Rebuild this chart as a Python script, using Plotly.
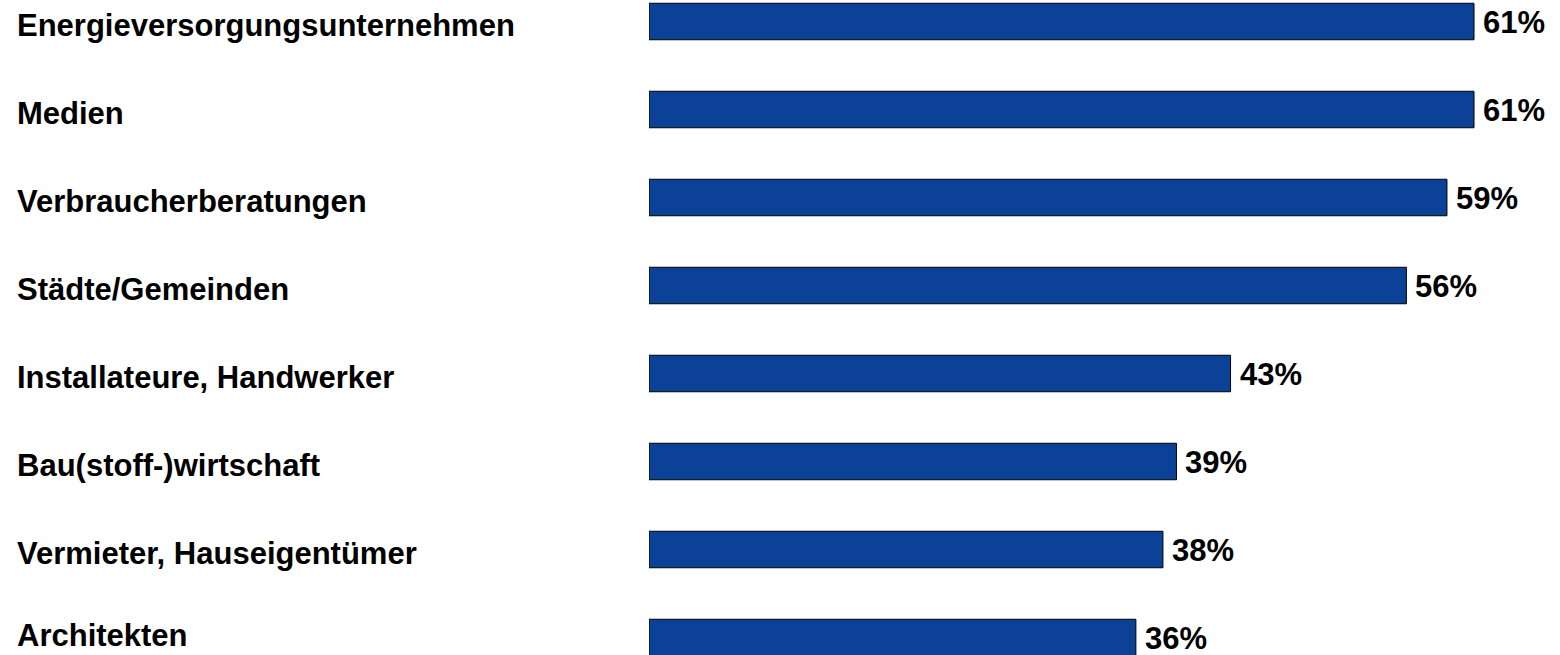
import plotly.graph_objects as go

# Survey results: share of respondents per information source (%)
categories = [
    "Energieversorgungsunternehmen",
    "Medien",
    "Verbraucherberatungen",
    "Städte/Gemeinden",
    "Installateure, Handwerker",
    "Bau(stoff-)wirtschaft",
    "Vermieter, Hauseigentümer",
    "Architekten",
]
values = [61, 61, 59, 56, 43, 39, 38, 36]

W, H = 1560, 655
ML, MR = 649, 0
plot_w = W - ML - MR
px_per_unit = 825 / 61
x_max = plot_w / px_per_unit

row_px = 88
first_center = 21.5
y_top = -first_center / row_px
y_bot = (H - first_center) / row_px

FONT = "Arial, Liberation Sans, sans-serif"
BAR = "#0B4196"
FS = 31

idx = list(range(len(categories)))

fig = go.Figure(
    go.Bar(
        x=values,
        y=idx,
        orientation="h",
        width=36.5 / row_px,
        marker=dict(color=BAR, line=dict(color="#000000", width=1)),
        hoverinfo="skip",
    )
)

# value labels right of each bar
for i, v in zip(idx, values):
    fig.add_annotation(
        x=v, y=i, xref="x", yref="y",
        text=f"<b>{v}%</b>", showarrow=False,
        xanchor="left", yanchor="middle", xshift=7, yshift=-1,
        font=dict(family=FONT, size=FS, color="#000000"),
    )

# category labels, left aligned; the bottom one is pinned to the lower edge
label_x = (15 - ML) / plot_w
last = idx[-1]
for i, c in zip(idx, categories):
    if i == last:
        fig.add_annotation(
            x=label_x, y=0, xref="paper", yref="paper",
            text=f"<b>{c}</b>", showarrow=False,
            xanchor="left", yanchor="bottom",
            font=dict(family=FONT, size=FS, color="#000000"),
        )
    else:
        fig.add_annotation(
            x=label_x, y=i, xref="paper", yref="y",
            text=f"<b>{c}</b>", showarrow=False,
            xanchor="left", yanchor="middle", yshift=-4,
            font=dict(family=FONT, size=FS, color="#000000"),
        )

fig.update_layout(
    width=W, height=H,
    margin=dict(l=ML, r=MR, t=0, b=0),
    paper_bgcolor="#ffffff",
    plot_bgcolor="#ffffff",
    showlegend=False,
    xaxis=dict(range=[0, x_max], visible=False, fixedrange=True),
    yaxis=dict(range=[y_bot, y_top], visible=False, fixedrange=True),
)

fig.write_html("out.html", config={"displayModeBar": False})
